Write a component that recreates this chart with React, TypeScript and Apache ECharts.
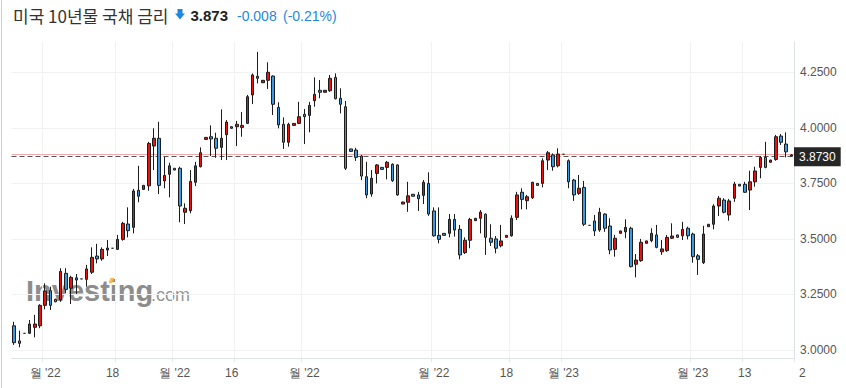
import React, { useEffect, useRef } from "react";
import * as echarts from "echarts";

// ---- data (daily candles) ----
const openP = [
  3.109, 3.041, 3.075, 3.075, 3.102, 3.109, 3.201, 3.267, 3.228, 3.226,
  3.345, 3.278, 3.325, 3.320, 3.318, 3.350, 3.423, 3.410, 3.450, 3.458,
  3.453, 3.498, 3.567, 3.552, 3.719, 3.723, 3.739, 3.918, 3.953, 3.761,
  3.791, 3.818, 3.818, 3.620, 3.627, 3.755, 3.825, 3.948, 3.960, 3.953,
  3.912, 3.969, 4.005, 4.005, 4.002, 4.020, 4.148, 4.232, 4.203, 4.214,
  4.233, 4.092, 4.016, 3.935, 4.011, 4.020, 4.061, 4.056, 4.122, 4.169,
  4.160, 4.167, 4.227, 4.133, 4.095, 3.905, 3.900, 3.873, 3.780, 3.702,
  3.795, 3.822, 3.822, 3.836, 3.833, 3.657, 3.665, 3.701, 3.698, 3.696,
  3.750, 3.626, 3.516, 3.525, 3.525, 3.588, 3.543, 3.438, 3.494, 3.582,
  3.593, 3.611, 3.503, 3.500, 3.469, 3.507, 3.514, 3.597, 3.710, 3.672,
  3.685, 3.750, 3.750, 3.855, 3.878, 3.829, 3.881, 3.852, 3.765, 3.705,
  3.732, 3.561, 3.581, 3.540, 3.612, 3.558, 3.453, 3.525, 3.532, 3.548,
  3.386, 3.402, 3.480, 3.492, 3.518, 3.442, 3.447, 3.503, 3.518, 3.514,
  3.548, 3.522, 3.424, 3.393, 3.555, 3.566, 3.648, 3.675, 3.608, 3.683,
  3.746, 3.746, 3.720, 3.757, 3.822, 3.867, 3.845, 3.858, 3.963, 3.927,
  3.878,
];
const closeP = [
  3.033, 3.030, 3.075, 3.117, 3.117, 3.201, 3.266, 3.201, 3.217, 3.354,
  3.273, 3.327, 3.315, 3.320, 3.365, 3.417, 3.410, 3.453, 3.459, 3.458,
  3.498, 3.570, 3.537, 3.716, 3.692, 3.741, 3.930, 3.953, 3.741, 3.786,
  3.829, 3.810, 3.648, 3.638, 3.759, 3.829, 3.888, 3.957, 3.950, 3.908,
  3.953, 4.026, 3.998, 4.016, 4.011, 4.140, 4.238, 4.223, 4.214, 4.250,
  4.106, 4.013, 3.935, 4.016, 4.020, 4.050, 4.050, 4.101, 4.151, 4.160,
  4.169, 4.223, 4.131, 4.106, 3.818, 3.894, 3.867, 3.783, 3.698, 3.773,
  3.833, 3.813, 3.845, 3.762, 3.698, 3.666, 3.694, 3.692, 3.681, 3.755,
  3.612, 3.514, 3.498, 3.516, 3.588, 3.540, 3.428, 3.494, 3.588, 3.593,
  3.621, 3.507, 3.485, 3.458, 3.491, 3.516, 3.593, 3.698, 3.678, 3.690,
  3.755, 3.741, 3.852, 3.888, 3.825, 3.882, 3.881, 3.757, 3.698, 3.728,
  3.566, 3.561, 3.536, 3.620, 3.548, 3.450, 3.503, 3.536, 3.552, 3.375,
  3.405, 3.485, 3.491, 3.525, 3.462, 3.455, 3.507, 3.513, 3.507, 3.543,
  3.514, 3.420, 3.408, 3.522, 3.566, 3.648, 3.683, 3.620, 3.671, 3.747,
  3.738, 3.710, 3.757, 3.806, 3.867, 3.822, 3.855, 3.960, 3.935, 3.892,
  3.873,
];
const lowP = [
  3.023, 3.012, 3.075, 3.072, 3.057, 3.098, 3.183, 3.180, 3.215, 3.217,
  3.255, 3.207, 3.252, 3.320, 3.285, 3.342, 3.390, 3.402, 3.423, 3.458,
  3.450, 3.492, 3.507, 3.525, 3.665, 3.720, 3.717, 3.810, 3.702, 3.728,
  3.687, 3.809, 3.575, 3.567, 3.615, 3.738, 3.822, 3.946, 3.873, 3.865,
  3.855, 3.855, 3.996, 3.918, 3.960, 4.017, 4.107, 4.200, 4.202, 4.175,
  4.058, 3.998, 3.905, 3.915, 4.010, 4.017, 3.927, 3.980, 4.095, 4.133,
  4.159, 4.162, 4.128, 4.065, 3.810, 3.892, 3.851, 3.765, 3.683, 3.690,
  3.750, 3.812, 3.768, 3.757, 3.694, 3.656, 3.622, 3.691, 3.626, 3.657,
  3.604, 3.510, 3.480, 3.515, 3.507, 3.510, 3.408, 3.432, 3.458, 3.581,
  3.525, 3.428, 3.468, 3.435, 3.462, 3.506, 3.510, 3.585, 3.633, 3.633,
  3.680, 3.740, 3.732, 3.810, 3.807, 3.822, 3.881, 3.728, 3.671, 3.698,
  3.558, 3.561, 3.513, 3.532, 3.532, 3.431, 3.420, 3.524, 3.503, 3.372,
  3.327, 3.397, 3.479, 3.485, 3.458, 3.428, 3.442, 3.500, 3.506, 3.495,
  3.498, 3.393, 3.338, 3.387, 3.554, 3.543, 3.603, 3.615, 3.582, 3.667,
  3.737, 3.708, 3.630, 3.735, 3.773, 3.818, 3.844, 3.852, 3.923, 3.867,
  3.871,
];
const highP = [
  3.127, 3.087, 3.075, 3.135, 3.158, 3.206, 3.300, 3.285, 3.231, 3.368,
  3.368, 3.334, 3.342, 3.320, 3.383, 3.462, 3.478, 3.462, 3.495, 3.458,
  3.518, 3.577, 3.642, 3.725, 3.829, 3.743, 3.937, 3.998, 4.027, 3.870,
  3.843, 3.819, 3.825, 3.660, 3.810, 3.847, 3.912, 3.959, 4.011, 3.978,
  4.083, 4.035, 4.007, 4.031, 4.071, 4.148, 4.245, 4.342, 4.215, 4.295,
  4.236, 4.115, 4.047, 4.023, 4.021, 4.117, 4.085, 4.117, 4.227, 4.215,
  4.170, 4.238, 4.245, 4.178, 4.121, 3.906, 3.910, 3.878, 3.847, 3.810,
  3.837, 3.823, 3.851, 3.840, 3.836, 3.667, 3.757, 3.702, 3.712, 3.765,
  3.800, 3.642, 3.642, 3.526, 3.612, 3.612, 3.563, 3.507, 3.595, 3.594,
  3.630, 3.615, 3.566, 3.513, 3.563, 3.517, 3.606, 3.712, 3.728, 3.698,
  3.757, 3.751, 3.863, 3.896, 3.885, 3.908, 3.881, 3.858, 3.770, 3.788,
  3.761, 3.561, 3.608, 3.640, 3.615, 3.593, 3.518, 3.537, 3.588, 3.555,
  3.432, 3.500, 3.492, 3.548, 3.563, 3.495, 3.518, 3.570, 3.519, 3.577,
  3.555, 3.528, 3.432, 3.559, 3.567, 3.656, 3.693, 3.683, 3.680, 3.757,
  3.747, 3.757, 3.807, 3.825, 3.873, 3.937, 3.856, 3.968, 3.972, 3.980,
  3.882,
];

// x-axis tick labels (category index -> text)
const tickIdx = [6, 19, 31, 42, 56, 81, 95, 106, 131, 141];
const tickText = ["월 '22", "18", "월 '22", "16", "월 '22", "월 '22", "18", "월 '23", "월 '23", "13"];
const gridIdx = [6, 20, 31, 43, 56, 81, 96, 106, 131, 141];

// y-axis tick range
const yTickMin = 3.0;
const yTickMax = 4.25;
const yTickStep = 0.25;

const titleText = "미국 10년물 국채 금리";
const lastPrice = 3.873;
const prevClose = 3.881;
const changeText = "-0.008";
const changePctText = "(-0.21%)";

const FONT = '"Liberation Sans", Arial, sans-serif';

export default function App() {
  const ref = useRef<HTMLDivElement>(null);

  useEffect(() => {
    if (!ref.current) return;
    const chart = echarts.init(ref.current, undefined, { renderer: "svg" });

    const categories = openP.map((_, i) => String(i));
    const candles = openP.map((o, i) => [o, closeP[i], lowP[i], highP[i]]);

    // Grid geometry
    const gTop = 42;
    const gBottomPx = 358;
    const y3Px = 350; // pixel of 3.0
    const y425Px = 72.3; // pixel of 4.25
    const pxPerUnit = (y3Px - y425Px) / (yTickMax - yTickMin);
    const yMinA = yTickMin - (gBottomPx - y3Px) / pxPerUnit;
    const yMaxA = yTickMin + (y3Px - gTop) / pxPerUnit;

    const option: any = {
      animation: false,
      backgroundColor: "#ffffff",
      textStyle: { fontFamily: FONT },
      grid: [
        { left: 11.5, right: 52, top: gTop, bottom: 388 - gBottomPx },
        { left: 11.5, right: 52, top: y425Px, bottom: 388 - y3Px },
      ],
      xAxis: [
        {
          type: "category",
          gridIndex: 0,
          data: categories,
          boundaryGap: true,
          axisLine: { show: true, lineStyle: { color: "#dde1e8", width: 1 } },
          axisTick: {
            show: true,
            length: 4,
            interval: (i: number) => gridIdx.includes(i),
            lineStyle: { color: "#e3e6eb" },
          },
          splitLine: {
            show: true,
            interval: (i: number) => gridIdx.includes(i),
            lineStyle: { color: "#f1f2f4", width: 1 },
          },
          axisLabel: {
            show: true,
            interval: (i: number) => tickIdx.includes(i),
            formatter: (_v: string, i: number) => {
              const k = tickIdx.indexOf(i);
              return k >= 0 ? tickText[k] : "";
            },
            color: "#555",
            fontSize: 12,
            margin: 9,
            fontFamily: FONT,
          },
        },
        { type: "value", gridIndex: 1, show: false, min: 0, max: 1 },
      ],
      yAxis: [
        {
          type: "value",
          gridIndex: 0,
          position: "right",
          min: yMinA,
          max: yMaxA,
          scale: true,
          axisLine: { show: true, lineStyle: { color: "#dde1e8" } },
          axisTick: { show: false },
          axisLabel: { show: false },
          splitLine: { show: false },
        },
        {
          type: "value",
          gridIndex: 1,
          position: "right",
          min: yTickMin,
          max: yTickMax,
          interval: yTickStep,
          axisLine: { show: false },
          axisTick: { show: false },
          axisLabel: {
            show: true,
            formatter: (v: number) => v.toFixed(4),
            color: "#555",
            fontSize: 12,
            margin: 6,
            fontFamily: FONT,
          },
          splitLine: { show: true, lineStyle: { color: "#f1f2f4", width: 1 } },
        },
      ],
      series: [
        {
          type: "candlestick",
          xAxisIndex: 0,
          yAxisIndex: 0,
          z: 5,
          data: candles,
          barWidth: 3,
          itemStyle: {
            color: "#e8120f",
            color0: "#3b98e2",
            borderColor: "#1c1c1c",
            borderColor0: "#1c1c1c",
            borderColorDoji: "#333333",
            borderWidth: 1,
          },
          markLine: {
            silent: true,
            symbol: "none",
            animation: false,
            data: [
              {
                yAxis: prevClose,
                lineStyle: { color: "#f3aaaa", type: "solid", width: 1 },
                label: { show: false },
              },
              {
                yAxis: lastPrice,
                lineStyle: { color: "#555555", type: [5, 3], width: 1 },
                label: {
                  show: true,
                  position: "end",
                  distance: 0,
                  formatter: () => lastPrice.toFixed(4),
                  color: "#ffffff",
                  backgroundColor: "#262626",
                  padding: [4, 5, 3, 5],
                  fontSize: 12,
                  fontFamily: FONT,
                },
              },
            ],
          },
        },
        {
          type: "line",
          xAxisIndex: 1,
          yAxisIndex: 1,
          data: [],
          silent: true,
        },
      ],
      graphic: [
        {
          type: "line",
          shape: { x1: 1.5, y1: 0, x2: 1.5, y2: 388 },
          style: { stroke: "#cfcfcf", lineWidth: 1 },
        },
        {
          type: "text",
          x: 13,
          y: 15,
          style: {
            text: titleText,
            fill: "#333333",
            font: '17px "Noto Sans CJK KR", sans-serif',
            verticalAlign: "middle",
            textVerticalAlign: "middle",
          },
        },
        {
          type: "polygon",
          shape: {
            points: [
              [177.5, 9],
              [182.5, 9],
              [182.5, 13.5],
              [185, 13.5],
              [180, 19.5],
              [175, 13.5],
              [177.5, 13.5],
            ],
          },
          style: { fill: "#1e88e0" },
        },
        {
          type: "text",
          x: 190.5,
          y: 15,
          style: {
            text: lastPrice.toFixed(3),
            fill: "#222222",
            font: `bold 15px ${FONT}`,
            verticalAlign: "middle",
            textVerticalAlign: "middle",
          },
        },
        {
          type: "text",
          x: 237,
          y: 15.5,
          style: {
            text: changeText,
            fill: "#1e88e0",
            font: `14px ${FONT}`,
            verticalAlign: "middle",
            textVerticalAlign: "middle",
          },
        },
        {
          type: "text",
          x: 283,
          y: 15.5,
          style: {
            text: changePctText,
            fill: "#1e88e0",
            font: `14px ${FONT}`,
            verticalAlign: "middle",
            textVerticalAlign: "middle",
          },
        },
        {
          type: "text",
          x: 26,
          y: 291,
          z: 0,
          style: {
            text: "Investing",
            fill: "rgba(125,125,125,0.9)",
            font: `bold 29px ${FONT}`,
            verticalAlign: "middle",
            textVerticalAlign: "middle",
          },
        },
        {
          type: "polygon",
          z: 0,
          shape: {
            points: [
              [108.5, 283],
              [110.5, 278],
              [114.5, 278],
              [112.5, 283],
            ],
          },
          style: { fill: "rgba(245,180,70,0.9)" },
        },
        {
          type: "text",
          x: 151,
          y: 295,
          z: 0,
          style: {
            text: ".com",
            fill: "rgba(135,135,135,0.9)",
            font: `18px ${FONT}`,
            verticalAlign: "middle",
            textVerticalAlign: "middle",
          },
        },
        {
          type: "text",
          x: 799,
          y: 373,
          style: {
            text: "2",
            fill: "#555",
            font: `12px ${FONT}`,
            verticalAlign: "middle",
            textVerticalAlign: "middle",
          },
        },
      ],
    };

    chart.setOption(option);
    return () => chart.dispose();
  }, []);

  return (
    <div
      ref={ref}
      style={{ position: "fixed", left: 0, top: 0, width: 846, height: 388, background: "#fff" }}
    />
  );
}
